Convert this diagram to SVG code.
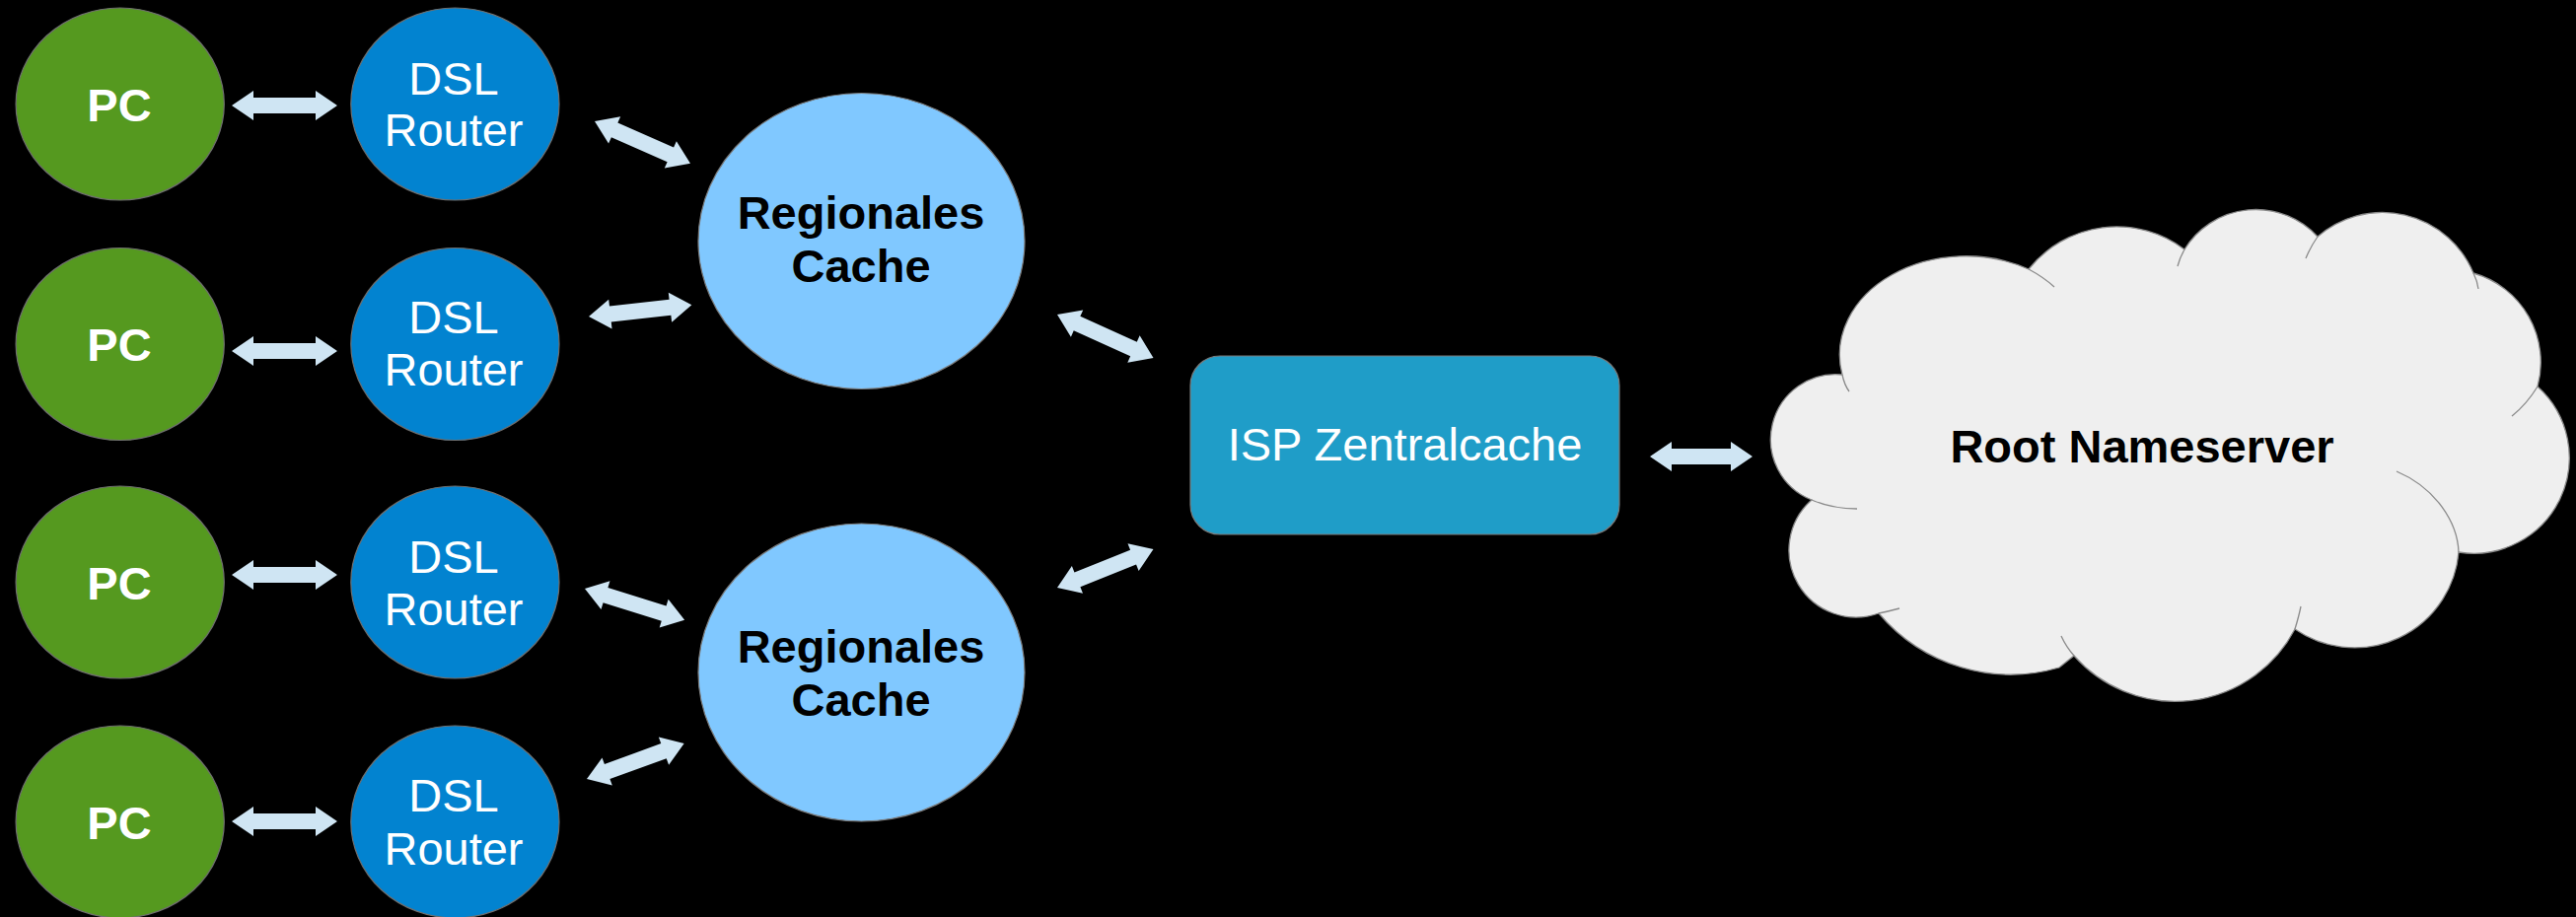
<svg xmlns="http://www.w3.org/2000/svg" width="2612" height="930" viewBox="0 0 2612 930">
<style>
.pc{fill:#55991f;stroke:#6f6f6f;stroke-width:1.2}
.dsl{fill:#0283d0;stroke:#6f6f6f;stroke-width:1.2}
.cache{fill:#80c8ff;stroke:#7a7a7a;stroke-width:1.2}
.isp{fill:#1f9dc8;stroke:#7a7a7a;stroke-width:1.2}
.cloud{fill:#efefef;stroke:#8a8a8a;stroke-width:1.3}
.inner{fill:none;stroke:#8a8a8a;stroke-width:1.3}
.arrow{fill:#cfe5f3}
text{font-family:"Liberation Sans",Arial,sans-serif;font-size:47px;text-anchor:middle}
.wb{fill:#ffffff;font-weight:bold}
.w{fill:#ffffff}
.kb{fill:#000000;font-weight:bold}
</style>
<rect x="0" y="0" width="2612" height="930" fill="#000000"/>

<g id="connectors">
<polygon class="arrow" transform="translate(235,107)" points="0,0 22,-15 22,-8 85,-8 85,-15 107,0 85,15 85,8 22,8 22,15"/>
<polygon class="arrow" transform="translate(235,356)" points="0,0 22,-15 22,-8 85,-8 85,-15 107,0 85,15 85,8 22,8 22,15"/>
<polygon class="arrow" transform="translate(235,583)" points="0,0 22,-15 22,-8 85,-8 85,-15 107,0 85,15 85,8 22,8 22,15"/>
<polygon class="arrow" transform="translate(235,833)" points="0,0 22,-15 22,-8 85,-8 85,-15 107,0 85,15 85,8 22,8 22,15"/>
<polygon class="arrow" transform="translate(603,123) rotate(23.8)" points="0,0 22,-15 22,-8 84,-8 84,-15 106,0 84,15 84,8 22,8 22,15"/>
<polygon class="arrow" transform="translate(597,321) rotate(-6.4)" points="0,0 22,-15 22,-8 83,-8 83,-15 105,0 83,15 83,8 22,8 22,15"/>
<polygon class="arrow" transform="translate(593,597) rotate(17.4)" points="0,0 22,-15 22,-8 84,-8 84,-15 106,0 84,15 84,8 22,8 22,15"/>
<polygon class="arrow" transform="translate(595,790) rotate(-20)" points="0,0 22,-15 22,-8 83,-8 83,-15 105,0 83,15 83,8 22,8 22,15"/>
<polygon class="arrow" transform="translate(1072,319) rotate(24.3)" points="0,0 22,-15 22,-8 85,-8 85,-15 107,0 85,15 85,8 22,8 22,15"/>
<polygon class="arrow" transform="translate(1072,596) rotate(-21.8)" points="0,0 22,-15 22,-8 83,-8 83,-15 105,0 83,15 83,8 22,8 22,15"/>
<polygon class="arrow" transform="translate(1673,463)" points="0,0 22,-15 22,-8 82,-8 82,-15 104,0 82,15 82,8 22,8 22,15"/>
</g>

<g id="pc1"><ellipse class="pc" cx="121.7" cy="105.5" rx="105.6" ry="97.5"/><text class="wb" x="121" y="123">PC</text></g>
<g id="pc2"><ellipse class="pc" cx="121.7" cy="349" rx="105.6" ry="97.5"/><text class="wb" x="121" y="366">PC</text></g>
<g id="pc3"><ellipse class="pc" cx="121.7" cy="590.5" rx="105.6" ry="97.5"/><text class="wb" x="121" y="608">PC</text></g>
<g id="pc4"><ellipse class="pc" cx="121.7" cy="833.5" rx="105.6" ry="97.5"/><text class="wb" x="121" y="851">PC</text></g>

<g id="dsl1"><ellipse class="dsl" cx="461.4" cy="105.5" rx="105.6" ry="97.5"/><text class="w" x="460" y="96">DSL</text><text class="w" x="460" y="148">Router</text></g>
<g id="dsl2"><ellipse class="dsl" cx="461.4" cy="349" rx="105.6" ry="97.5"/><text class="w" x="460" y="338">DSL</text><text class="w" x="460" y="391">Router</text></g>
<g id="dsl3"><ellipse class="dsl" cx="461.4" cy="590.5" rx="105.6" ry="97.5"/><text class="w" x="460" y="581">DSL</text><text class="w" x="460" y="634">Router</text></g>
<g id="dsl4"><ellipse class="dsl" cx="461.4" cy="833.5" rx="105.6" ry="97.5"/><text class="w" x="460" y="823">DSL</text><text class="w" x="460" y="877">Router</text></g>

<g id="cache1"><ellipse class="cache" cx="873.5" cy="244.5" rx="165.5" ry="150"/><text class="kb" x="873" y="232">Regionales</text><text class="kb" x="873" y="286">Cache</text></g>
<g id="cache2"><ellipse class="cache" cx="873.5" cy="682" rx="165.5" ry="151"/><text class="kb" x="873" y="672">Regionales</text><text class="kb" x="873" y="726">Cache</text></g>

<g id="isp"><rect class="isp" x="1207" y="361" width="435" height="181" rx="30" ry="30"/><text class="w" x="1424.5" y="467">ISP Zentralcache</text></g>

<g id="root">
<path class="cloud" d="M1837,507 A66,66 0 0 1 1868,380 A128,100 0 0 1 2057,273 A114,114 0 0 1 2215,253 A85,85 0 0 1 2350,240 A100,100 0 0 1 2508,277 A94,94 0 0 1 2573,392 A97,97 0 0 1 2493,560 A106,106 0 0 1 2327,638 A137,137 0 0 1 2103,665 L2088,677 A175,175 0 0 1 1905,622 A68,68 0 0 1 1837,507 Z"/>
<path class="inner" d="M1868,380 Q1870,390 1875,397 M2057,273 Q2072,281 2083,291 M2215,253 Q2210,262 2208,270 M2350,240 Q2343,250 2338,262 M2508,277 Q2512,285 2513,293 M2573,392 Q2562,410 2547,422 M2493,560 C2492,530 2470,495 2430,478 M2327,638 Q2331,625 2333,615 M2103,665 Q2095,656 2090,645 M1905,622 Q1915,620 1926,617 M1837,507 Q1858,516 1883,516"/>
<text class="kb" x="2172" y="469">Root Nameserver</text>
</g>
</svg>
